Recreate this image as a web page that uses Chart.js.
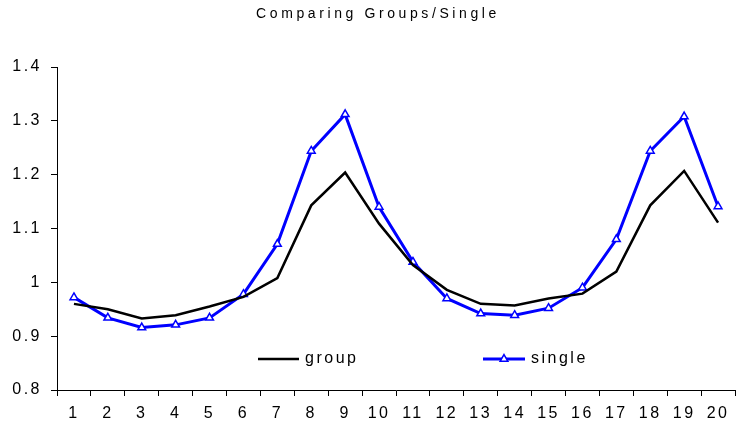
<!DOCTYPE html>
<html>
<head>
<meta charset="utf-8">
<script src="https://cdn.jsdelivr.net/npm/chart.js@4/dist/chart.umd.min.js"></script>
<style>
  html, body { margin: 0; padding: 0; background: #fff; }
  #wrap { width: 741px; height: 431px; position: relative; }
</style>
</head>
<body>
<div id="wrap"><canvas id="chart"></canvas></div>
<script>
// data
const categories = ['1', '2', '3', '4', '5', '6', '7', '8', '9', '10',
                    '11', '12', '13', '14', '15', '16', '17', '18', '19', '20'];
const groupValues = [0.960, 0.950, 0.933, 0.939, 0.955, 0.973, 1.008, 1.143, 1.204, 1.109,
                     1.032, 0.986, 0.960, 0.957, 0.970, 0.979, 1.020, 1.143, 1.207, 1.111];
const singleValues = [0.972, 0.934, 0.916, 0.921, 0.934, 0.978, 1.071, 1.244, 1.312, 1.140,
                      1.038, 0.970, 0.942, 0.939, 0.952, 0.990, 1.080, 1.244, 1.308, 1.141];
const yTicks = [0.8, 0.9, 1.0, 1.1, 1.2, 1.3, 1.4];
const titleText = 'Comparing Groups/Single';
const seriesNames = ['group', 'single'];

const FONT = '"Liberation Sans", Arial, sans-serif';

// spaced-out lettering like the original
const spacingPlugin = {
    id: 'spacing',
    beforeUpdate: (chart) => { chart.ctx.letterSpacing = '2.5px'; },
    beforeDraw: (chart) => { chart.ctx.letterSpacing = '2.5px'; }
};

// title and in-plot legend
const decorPlugin = {
    id: 'decor',
    afterDraw: (chart) => {
        const ctx = chart.ctx;
        const area = chart.chartArea;

        ctx.save();
        ctx.letterSpacing = '3.6px';
        ctx.font = '14px ' + FONT;
        ctx.fillStyle = '#000';
        ctx.textAlign = 'center';
        ctx.textBaseline = 'middle';
        ctx.fillText(titleText, 378, 14);
        ctx.restore();

        // legend entries
        const ly = area.bottom - 31;
        ctx.save();
        ctx.letterSpacing = '2.5px';
        ctx.font = '16px ' + FONT;
        ctx.textBaseline = 'middle';
        ctx.fillStyle = '#000';

        ctx.beginPath();
        ctx.strokeStyle = '#000';
        ctx.lineWidth = 2.5;
        ctx.moveTo(258, ly);
        ctx.lineTo(299, ly);
        ctx.stroke();
        ctx.fillText(seriesNames[0], 305, ly);

        ctx.beginPath();
        ctx.strokeStyle = '#0000ff';
        ctx.lineWidth = 3;
        ctx.moveTo(483, ly);
        ctx.lineTo(525, ly);
        ctx.stroke();
        // triangle marker
        const tx = 504, r = 4.5;
        ctx.beginPath();
        ctx.moveTo(tx, ly - r);
        ctx.lineTo(tx + r * 0.866, ly + r / 2);
        ctx.lineTo(tx - r * 0.866, ly + r / 2);
        ctx.closePath();
        ctx.fillStyle = '#fff';
        ctx.fill();
        ctx.lineWidth = 1.5;
        ctx.stroke();
        ctx.fillStyle = '#000';
        ctx.fillText(seriesNames[1], 531, ly);
        ctx.restore();
    }
};

new Chart(document.getElementById('chart'), {
    type: 'line',
    data: {
        labels: categories,
        datasets: [{
            label: seriesNames[0],
            data: groupValues,
            borderColor: '#000',
            borderWidth: 2.5,
            pointRadius: 0,
            tension: 0
        }, {
            label: seriesNames[1],
            data: singleValues,
            borderColor: '#0000ff',
            borderWidth: 3,
            pointStyle: 'triangle',
            pointRadius: 4.5,
            pointBorderWidth: 1.5,
            pointBorderColor: '#0000ff',
            pointBackgroundColor: '#fff',
            tension: 0
        }]
    },
    options: {
        responsive: true,
        maintainAspectRatio: false,
        animation: false,
        plugins: {
            legend: { display: false },
            title: { display: false },
            tooltip: { enabled: false }
        },
        layout: {
            padding: { top: 67, right: 0, left: 0, bottom: 0 }
        },
        scales: {
            x: {
                offset: true,
                grid: {
                    offset: true,
                    drawOnChartArea: false,
                    tickLength: 6,
                    color: '#000'
                },
                border: { color: '#000', width: 1 },
                ticks: {
                    color: '#000',
                    font: { family: FONT, size: 16 },
                    padding: 8,
                    maxRotation: 0,
                    autoSkip: false
                },
                afterFit: (scale) => { scale.height = 41; }
            },
            y: {
                min: 0.8,
                max: 1.4,
                grid: {
                    drawOnChartArea: false,
                    tickLength: 6,
                    color: '#000'
                },
                border: { color: '#000', width: 1 },
                ticks: {
                    color: '#000',
                    font: { family: FONT, size: 16 },
                    padding: 9,
                    callback: (v) => String(Math.round(v * 10) / 10)
                },
                afterBuildTicks: (scale) => {
                    scale.ticks = yTicks.map(v => ({ value: v }));
                },
                afterFit: (scale) => { scale.width = 57; }
            }
        }
    },
    plugins: [spacingPlugin, decorPlugin]
});
</script>
</body>
</html>
